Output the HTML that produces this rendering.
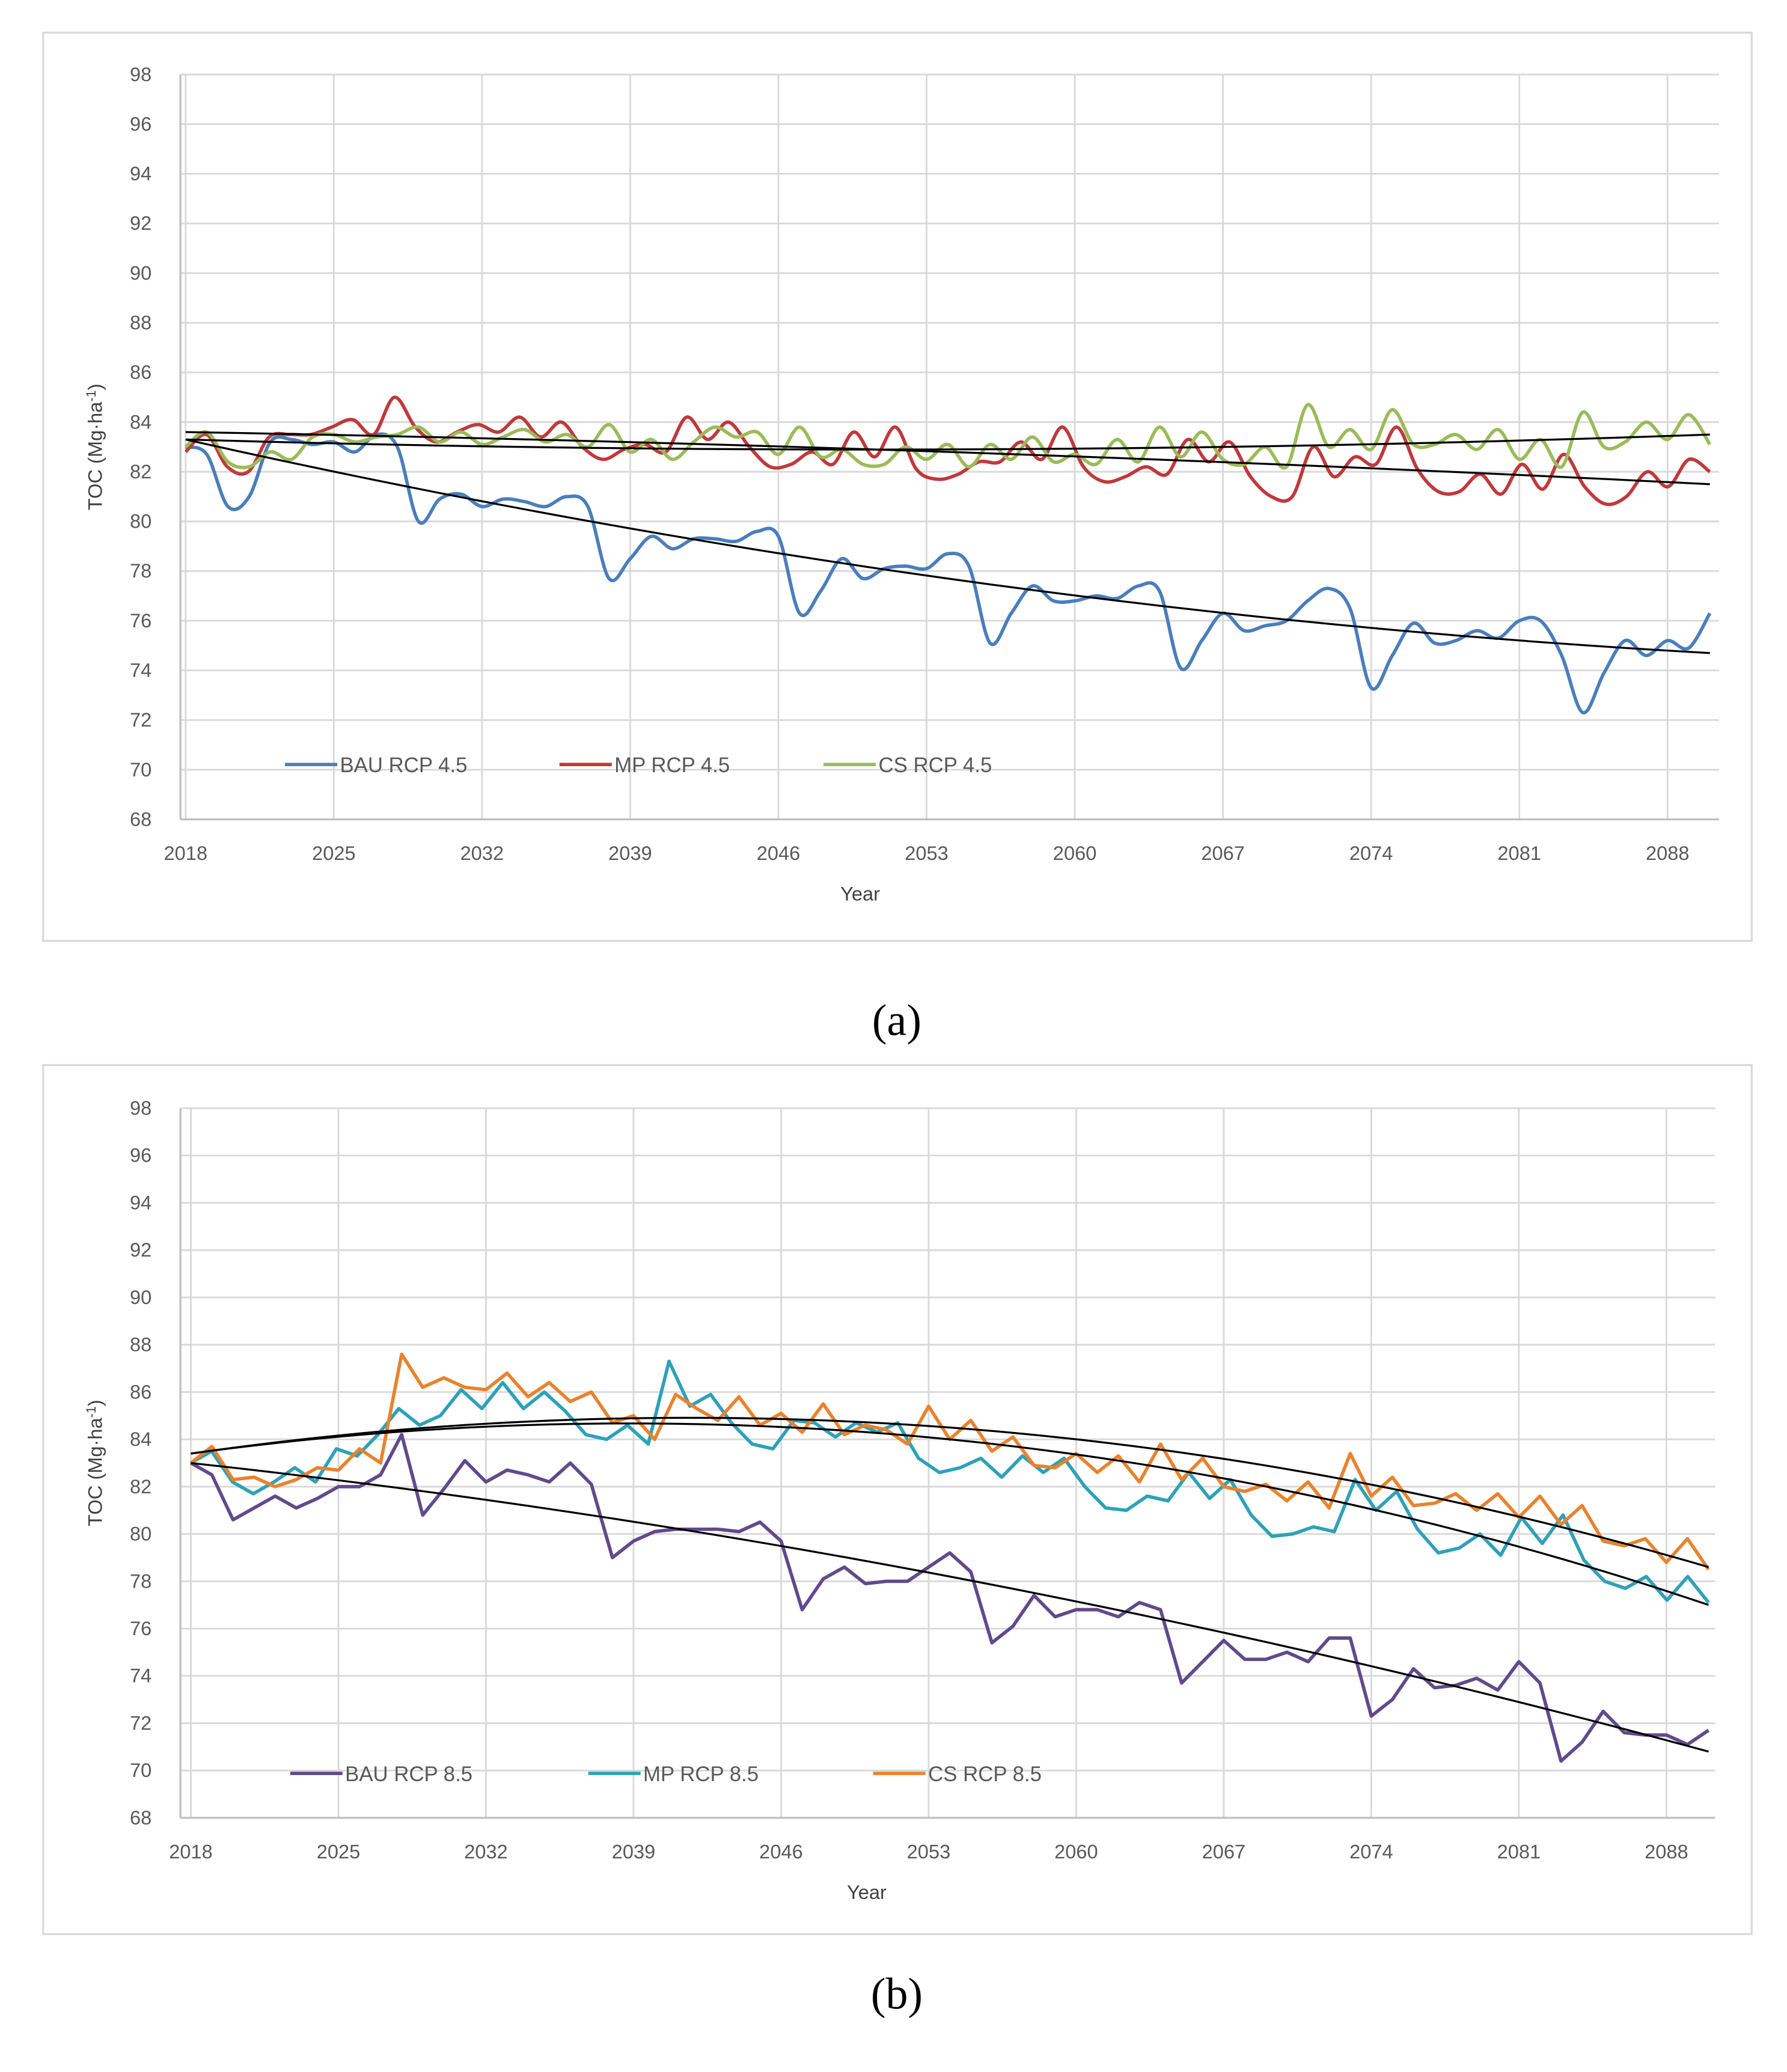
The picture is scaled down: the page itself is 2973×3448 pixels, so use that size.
<!DOCTYPE html>
<html><head><meta charset="utf-8"><style>
html,body{margin:0;padding:0;background:#fff;}
svg{display:block;font-family:"Liberation Sans",sans-serif;}
</style></head><body>
<svg id="fig" width="2973" height="3448" viewBox="0 0 1367 1585.5" preserveAspectRatio="none">
<rect x="33" y="25" width="1307" height="695" fill="#fff" stroke="#d9d9d9" stroke-width="1.5"/>
<rect x="33" y="815" width="1307" height="665" fill="#fff" stroke="#d9d9d9" stroke-width="1.5"/>
<g id="ca"></g>
<g id="cb"></g>
<text x="686" y="792" font-size="34" text-anchor="middle" font-family="Liberation Serif,serif">(a)</text>
<text x="686" y="1537" font-size="34" text-anchor="middle" font-family="Liberation Serif,serif">(b)</text>
</svg>
<script>
const yTicks=[68,70,72,74,76,78,80,82,84,86,88,90,92,94,96,98];
const xTicks=[2018,2025,2032,2039,2046,2053,2060,2067,2074,2081,2088];
const startYear=2018;
const bau45=[83,82.7,80.6,81,83.2,83.3,83.1,83.2,82.8,83.5,83,80,80.9,81.1,80.6,80.9,80.8,80.6,81,80.6,77.7,78.5,79.4,78.9,79.3,79.3,79.2,79.6,79.4,76.3,77.2,78.5,77.7,78.1,78.2,78.1,78.7,78.2,75.1,76.3,77.4,76.8,76.8,77,76.9,77.4,77.2,74.1,75.2,76.3,75.6,75.8,76,76.8,77.3,76.5,73.3,74.6,75.9,75.1,75.2,75.6,75.3,76,76,74.6,72.3,73.9,75.2,74.6,75.2,74.9,76.3];
const mp45=[82.8,83.5,82.2,82,83.4,83.5,83.5,83.8,84.1,83.5,85,83.8,83.2,83.6,83.9,83.6,84.2,83.4,84,83,82.5,82.9,83.1,82.8,84.2,83.3,84,83,82.2,82.3,82.8,82.3,83.6,82.6,83.8,82.1,81.7,81.9,82.4,82.4,83.2,82.5,83.8,82.2,81.6,81.8,82.2,81.9,83.3,82.4,83.2,81.8,81,81,83,81.8,82.6,82.3,83.8,82.1,81.2,81.2,81.9,81.1,82.3,81.3,82.7,81.4,80.7,81,82,81.4,82.5,82];
const cs45=[83,83.6,82.4,82.2,82.8,82.5,83.4,83.5,83.2,83.4,83.5,83.8,83.2,83.6,83.1,83.4,83.7,83.2,83.5,83,83.9,82.8,83.3,82.5,83.2,83.8,83.4,83.6,82.7,83.8,82.6,82.9,82.3,82.3,83,82.5,83.1,82.2,83.1,82.5,83.4,82.4,82.7,82.3,83.3,82.4,83.8,82.6,83.6,82.5,82.3,83,82.2,84.7,83,83.7,82.9,84.5,83.1,83.1,83.5,82.9,83.7,82.5,83.3,82.2,84.4,83,83.2,84,83.3,84.3,83.1];
const bau85=[83,82.5,80.6,81.1,81.6,81.1,81.5,82,82,82.5,84.2,80.8,81.9,83.1,82.2,82.7,82.5,82.2,83,82.1,79,79.7,80.1,80.2,80.2,80.2,80.1,80.5,79.7,76.8,78.1,78.6,77.9,78,78,78.6,79.2,78.4,75.4,76.1,77.4,76.5,76.8,76.8,76.5,77.1,76.8,73.7,74.6,75.5,74.7,74.7,75,74.6,75.6,75.6,72.3,73,74.3,73.5,73.6,73.9,73.4,74.6,73.7,70.4,71.2,72.5,71.6,71.5,71.5,71.1,71.7];
const mp85=[83,83.5,82.2,81.7,82.2,82.8,82.2,83.6,83.3,84.2,85.3,84.6,85,86.1,85.3,86.4,85.3,86,85.2,84.2,84,84.6,83.8,87.3,85.4,85.9,84.7,83.8,83.6,84.8,84.7,84.1,84.7,84.3,84.7,83.2,82.6,82.8,83.2,82.4,83.3,82.6,83.2,82,81.1,81,81.6,81.4,82.6,81.5,82.3,80.8,79.9,80,80.3,80.1,82.3,81,81.8,80.2,79.2,79.4,80,79.1,80.7,79.6,80.8,78.9,78,77.7,78.2,77.2,78.2,77.1];
const cs85=[83,83.7,82.3,82.4,82,82.3,82.8,82.7,83.6,83,87.6,86.2,86.6,86.2,86.1,86.8,85.8,86.4,85.6,86,84.7,85,84,85.9,85.3,84.8,85.8,84.6,85.1,84.3,85.5,84.2,84.6,84.4,83.8,85.4,84,84.8,83.5,84.1,82.9,82.8,83.4,82.6,83.3,82.2,83.8,82.3,83.2,82,81.8,82.1,81.4,82.2,81.1,83.4,81.6,82.4,81.2,81.3,81.7,81,81.7,80.7,81.6,80.4,81.2,79.7,79.5,79.8,78.8,79.8,78.5];
// trend values at start, middle, end years (2018, 2054, 2090)
const trendBau45=[83.3,77.7,74.7];
const trendMp45=[83.6,82.8,81.5];
const trendCs45=[83.3,82.9,83.5];
const trendBau85=[83,78.2,70.8];
const trendMp85=[83.4,84.0,77.0];
const trendCs85=[83.4,84.5,78.6];
const legendA=["BAU RCP 4.5","MP RCP 4.5","CS RCP 4.5"];
const legendB=["BAU RCP 8.5","MP RCP 8.5","CS RCP 8.5"];

const NS="http://www.w3.org/2000/svg";
function mk(parent,tag,attrs){const e=document.createElementNS(NS,tag);for(const k in attrs)e.setAttribute(k,attrs[k]);parent.appendChild(e);return e;}

function draw(g,cfg){
  const X=yr=>cfg.x0+(yr-2018)*(cfg.x1-cfg.x0)/72;
  const Y=v=>cfg.yb+(v-68)*(cfg.yt-cfg.yb)/30;
  yTicks.forEach(t=>{
    const l=mk(g,'line',{x1:cfg.px0,x2:cfg.px1,y1:Y(t),y2:Y(t),stroke:'#d9d9d9','stroke-width':1.3});
    
    
    const tx=mk(g,'text',{x:cfg.px0-22,y:Y(t)+5,'font-size':15,'text-anchor':'end',fill:'#595959'});
    tx.textContent=t;
    
    
  });
  xTicks.forEach(t=>{
    const l=mk(g,'line',{x1:X(t),x2:X(t),y1:cfg.yt,y2:cfg.yb,stroke:'#d9d9d9','stroke-width':1.3});
    
    
    const tx=mk(g,'text',{x:X(t),y:cfg.yb+31,'font-size':15,'text-anchor':'middle',fill:'#595959'});
    tx.textContent=t;
    
    
  });
  const ax=mk(g,'line',{x1:cfg.px0,x2:cfg.px0,y1:cfg.yt,y2:cfg.yb,stroke:'#bfbfbf','stroke-width':1.5});
  
  
  const bx=mk(g,'line',{x1:cfg.px0,x2:cfg.px1,y1:cfg.yb,y2:cfg.yb,stroke:'#bfbfbf','stroke-width':1.5});
  
  
  const xt=mk(g,'text',{x:cfg.xtx,y:cfg.yb+62,'font-size':15,'text-anchor':'middle',fill:'#404040'});
  xt.textContent='Year';
  
  
  const cy=(cfg.yt+cfg.yb)/2;
  const yt=mk(g,'text',{x:78,y:cy,'font-size':15,'text-anchor':'middle',fill:'#404040',transform:`rotate(-90 78 ${cy})`});
  yt.innerHTML='TOC (Mg·ha<tspan dy="-5" font-size="10">-1</tspan><tspan dy="5">)</tspan>';
  
  
  cfg.series.forEach((s,si)=>{
    const pts=s.v.map((v,i)=>[X(startYear+i*72/(s.v.length-1)),Y(v)]);
    let d='M'+pts[0][0]+','+pts[0][1];
    for(let i=1;i<pts.length;i++){
      if(cfg.smooth){
        const p0=pts[Math.max(0,i-2)],p1=pts[i-1],p2=pts[i],p3=pts[Math.min(pts.length-1,i+1)];
        const c1=[p1[0]+(p2[0]-p0[0])/6,p1[1]+(p2[1]-p0[1])/6],c2=[p2[0]-(p3[0]-p1[0])/6,p2[1]-(p3[1]-p1[1])/6];
        d+=`C${c1[0]},${c1[1]} ${c2[0]},${c2[1]} ${p2[0]},${p2[1]}`;
      } else d+='L'+p2str(pts[i]);
    }
    const p=mk(g,'path',{d:d,fill:'none',stroke:s.c,'stroke-width':2.6,'stroke-linejoin':'round'});
    
    
    // legend
    const lx=cfg.legX[si];
    const ll=mk(g,'line',{x1:lx,x2:lx+40,y1:cfg.legY,y2:cfg.legY,stroke:s.c,'stroke-width':2.6});
    
    
    const lt=mk(g,'text',{x:lx+42,y:cfg.legY+6,'font-size':16,fill:'#595959'});
    lt.textContent=cfg.legend[si];
    
    
  });
  cfg.trends.forEach(tr=>{
    // quadratic through (2018,a),(2054,b),(2090,c)
    const [a,b,c]=tr;let d='';
    for(let k=0;k<=72;k++){
      const t=k/72;const v=a*(1-t)*(1-2*t)+b*4*t*(1-t)+c*t*(2*t-1);
      d+=(k?'L':'M')+X(2018+k)+','+Y(v);
    }
    const p=mk(g,'path',{d:d,fill:'none',stroke:'#000','stroke-width':1.5});
    
    
  });
}
function p2str(p){return p[0]+','+p[1];}

draw(document.getElementById('ca'),{x0:142,x1:1308,px0:138,px1:1315,yt:57,yb:627,smooth:true,xtx:658,
  legY:585,legX:[218,428,630],legend:legendA,
  series:[{v:bau45,c:'#4a7ebb',name:'bau-rcp45-line'},{v:mp45,c:'#c0393b',name:'mp-rcp45-line'},{v:cs45,c:'#9bbb59',name:'cs-rcp45-line'}],
  trends:[trendBau45,trendMp45,trendCs45]});
draw(document.getElementById('cb'),{x0:146,x1:1307,px0:138,px1:1312,yt:848,yb:1391,smooth:false,xtx:663,
  legY:1357,legX:[222,450,668],legend:legendB,
  series:[{v:bau85,c:'#604a8b',name:'bau-rcp85-line'},{v:mp85,c:'#2ea1b8',name:'mp-rcp85-line'},{v:cs85,c:'#e8832e',name:'cs-rcp85-line'}],
  trends:[trendBau85,trendMp85,trendCs85]});
</script>
</body></html>
